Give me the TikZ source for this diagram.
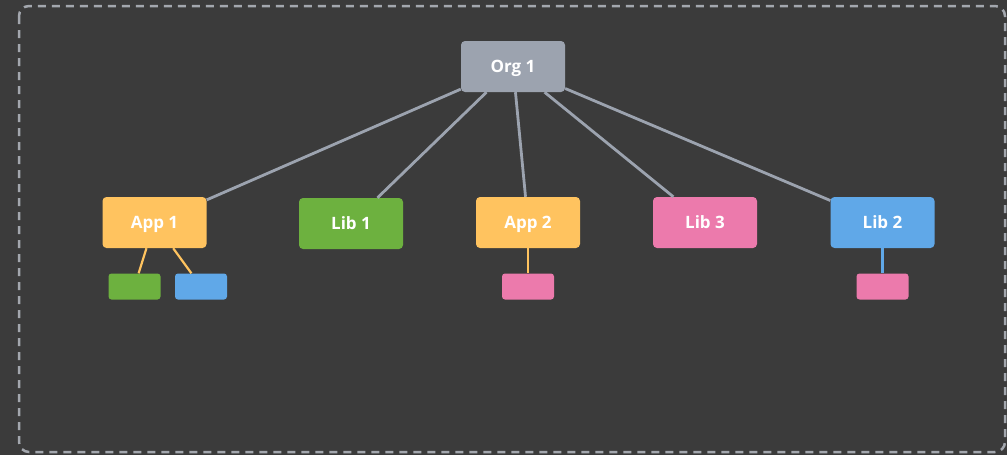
\documentclass[tikz,border=0pt]{standalone}
\usepackage{fontspec}
\setmainfont{Open Sans}
\definecolor{bg}{HTML}{3B3B3B}
\definecolor{frame}{HTML}{A3A7AE}
\definecolor{orggray}{HTML}{9CA3AF}
\definecolor{apporange}{HTML}{FFC35F}
\definecolor{libgreen}{HTML}{6DB13F}
\definecolor{libpink}{HTML}{EC7AAC}
\definecolor{libblue}{HTML}{60A8E8}
\begin{document}
\begin{tikzpicture}[x=1pt,y=-1pt,
  box/.style={rounded corners=4pt, minimum width=104pt, minimum height=51pt, inner sep=0pt,
    text=white, text height=12pt, text depth=0pt, font=\fontsize{17}{20}\selectfont\bfseries},
  small/.style={rounded corners=3pt, minimum width=52pt, minimum height=26pt, inner sep=0pt},
  orgline/.style={draw=orggray, line width=2.8pt},
  kidline/.style={line width=2.2pt}]
\useasboundingbox (0,0) rectangle (1007,455);
\fill[bg] (0,0) rectangle (1007,455);
\draw[frame, line width=2.5pt, dash pattern=on 8pt off 6pt, rounded corners=10pt] (19,6) rectangle (1005,452);

\node[box, fill=orggray] (org) at (513,66.5) {Org 1};
\node[box, fill=apporange] (app1) at (154.5,222.5) {App 1};
\node[box, fill=libgreen] (lib1) at (351,223.5) {Lib 1};
\node[box, fill=apporange] (app2) at (528,222.5) {App 2};
\node[box, fill=libpink] (lib3) at (705,222.5) {Lib 3};
\node[box, fill=libblue] (lib2) at (882.5,222.5) {Lib 2};

\node[small, fill=libgreen] (s1) at (134.5,286.5) {};
\node[small, fill=libblue] (s2) at (201,286.5) {};
\node[small, fill=libpink] (s3) at (528,286.5) {};
\node[small, fill=libpink] (s4) at (882.5,286.5) {};

\draw[orgline] (org) -- (app1);
\draw[orgline] (org) -- (lib1);
\draw[orgline] (org) -- (app2);
\draw[orgline] (org) -- (lib3);
\draw[orgline] (org) -- (lib2);
\draw[kidline, draw=apporange] (app1) -- (s1);
\draw[kidline, draw=apporange] (app1) -- (s2);
\draw[kidline, draw=apporange] (app2) -- (s3);
\draw[kidline, draw=libblue] (lib2) -- (s4);
\end{tikzpicture}
\end{document}
